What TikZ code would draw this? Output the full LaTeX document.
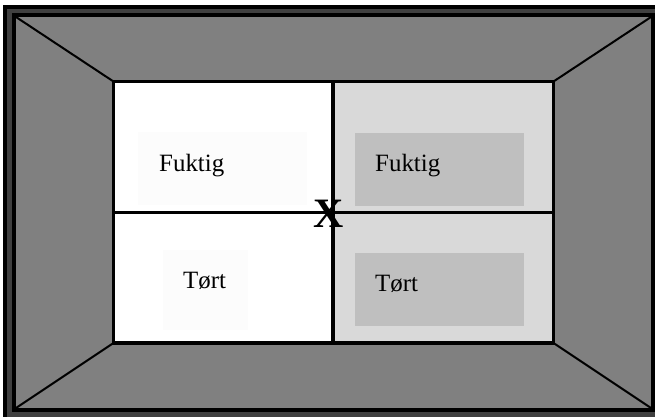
\documentclass[tikz,border=0pt]{standalone}
\usepackage{fontspec}
\setmainfont{Liberation Serif}
\begin{document}
\begin{tikzpicture}[x=1bp, y=-1bp,
    frame/.style={draw=black, line width=4bp},
    wall/.style={draw=black, line width=3.5bp},
    corner/.style={draw=black, line width=2bp},
    field/.style={black!25},
    label/.style={font=\fontsize{25}{30}\selectfont, inner sep=0pt, anchor=base west}
]
\useasboundingbox (0,0) rectangle (655,416);
\clip (0,0) rectangle (655,416);

\filldraw[frame, fill=black!75] (5,7) rectangle (672,432);
\filldraw[frame, fill=black!50] (14,15) rectangle (653,410);

\coordinate (o1) at (16,17);
\coordinate (o2) at (651,17);
\coordinate (o3) at (651,408);
\coordinate (o4) at (16,408);
\coordinate (i1) at (113.5,81.5);
\coordinate (i2) at (553.5,81.5);
\coordinate (i3) at (553.5,343);
\coordinate (i4) at (113.5,343);
\coordinate (mt) at (333,81.5);
\coordinate (mb) at (333,343);
\coordinate (ml) at (113.5,212.5);
\coordinate (mr) at (553.5,212.5);

\draw[corner] (o1) -- (i1);
\draw[corner] (o2) -- (i2);
\draw[corner] (o3) -- (i3);
\draw[corner] (o4) -- (i4);

\fill[white] (i1) rectangle (mb);
\fill[black!15] (mt) rectangle (i3);
\fill[black!1] (138,132) rectangle (307,205);
\fill[black!1] (163,250) rectangle (248,330);
\fill[field] (355,133) rectangle (524,206);
\fill[field] (355,253) rectangle (524,326);

\draw[wall] (i1) rectangle (i3);
\draw[wall] (mt) -- (mb);
\draw[wall] (ml) -- (mr);

\node[label] (fukt1) at (159,171) {Fuktig};
\node[label] (fukt2) at (375,171) {Fuktig};
\node[label] (tort1) at (183,288) {Tørt};
\node[label] (tort2) at (375,291) {Tørt};
\node[font=\fontsize{42}{42}\selectfont\bfseries, inner sep=0pt] (kryss) at (329,214) {X};
\end{tikzpicture}
\end{document}
